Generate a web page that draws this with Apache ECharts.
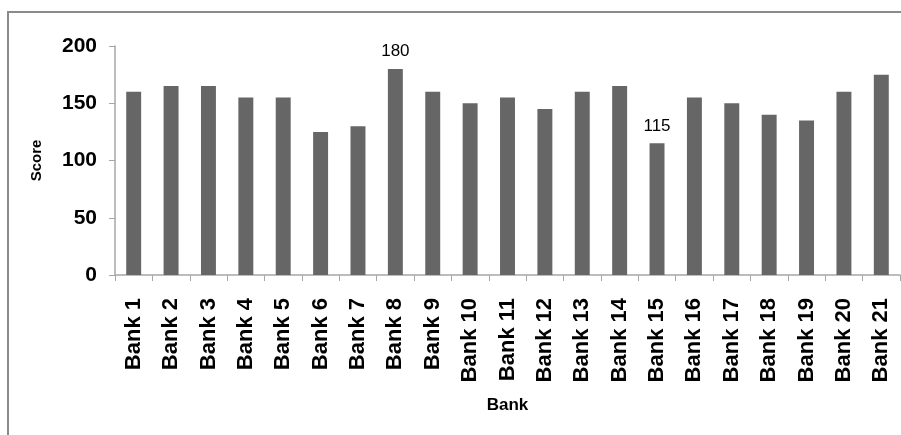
<!DOCTYPE html>
<html>
<head>
<meta charset="utf-8">
<title>Bank Scores</title>
<script src="https://cdn.jsdelivr.net/npm/echarts@6/dist/echarts.min.js"></script>
<style>
  html, body { margin: 0; padding: 0; background: #ffffff; }
  #chart { width: 901px; height: 435px; }
</style>
</head>
<body>
<div id="chart"></div>
<script>
// Categories and scores
const banks = ['Bank 1', 'Bank 2', 'Bank 3', 'Bank 4', 'Bank 5', 'Bank 6', 'Bank 7',
  'Bank 8', 'Bank 9', 'Bank 10', 'Bank 11', 'Bank 12', 'Bank 13', 'Bank 14',
  'Bank 15', 'Bank 16', 'Bank 17', 'Bank 18', 'Bank 19', 'Bank 20', 'Bank 21'];
const scores = [160, 165, 165, 155, 155, 125, 130, 180, 160, 150, 155, 145, 160, 165,
  115, 155, 150, 140, 135, 160, 175];
// Only the highest and lowest scores carry a value label
const labelledBanks = ['Bank 8', 'Bank 15'];
const scoreTicks = [0, 50, 100, 150, 200];

const FONT = '"Liberation Sans", Arial, sans-serif';

const chart = echarts.init(document.getElementById('chart'), null, { renderer: 'canvas' });

const seriesData = scores.map((v, i) => ({
  value: v,
  label: { show: labelledBanks.includes(banks[i]) }
}));

chart.setOption({
  animation: false,
  backgroundColor: '#ffffff',
  graphic: [{
    type: 'rect',
    shape: { x: 8, y: 12, width: 1200, height: 1000 },
    style: { fill: 'none', stroke: '#8a8a8a', lineWidth: 2 },
    z: -1,
    silent: true
  }],
  grid: { left: 115, right: 1, top: 46, bottom: 160, containLabel: false },
  xAxis: {
    type: 'category',
    data: banks,
    name: 'Bank',
    nameLocation: 'middle',
    nameGap: 122,
    nameTextStyle: { fontFamily: FONT, fontWeight: 'bold', fontSize: 17, color: '#000' },
    axisLine: { lineStyle: { color: '#a6a6a6', width: 1.5 } },
    axisTick: { show: true, length: 6, alignWithLabel: false, lineStyle: { color: '#a6a6a6' } },
    axisLabel: {
      rotate: 90,
      interval: 0,
      margin: 23,
      fontFamily: FONT,
      fontWeight: 'bold',
      fontSize: 22,
      color: '#000'
    },
    splitLine: { show: false }
  },
  yAxis: {
    type: 'value',
    min: scoreTicks[0],
    max: scoreTicks[scoreTicks.length - 1],
    interval: 50,
    name: 'Score',
    nameLocation: 'middle',
    nameGap: 71,
    nameTextStyle: { fontFamily: FONT, fontWeight: 'bold', fontSize: 15, color: '#000' },
    axisLine: { show: true, lineStyle: { color: '#a6a6a6', width: 1.5 } },
    axisTick: { show: true, length: 6, lineStyle: { color: '#a6a6a6' } },
    axisLabel: {
      margin: 18,
      fontFamily: FONT,
      fontWeight: 'bold',
      fontSize: 21,
      color: '#000'
    },
    splitLine: { show: false }
  },
  series: [{
    type: 'bar',
    data: seriesData,
    barWidth: '40%',
    itemStyle: { color: '#666666' },
    label: {
      position: 'top',
      distance: 9,
      fontFamily: FONT,
      fontSize: 17,
      color: '#000'
    }
  }]
});
</script>
</body>
</html>
